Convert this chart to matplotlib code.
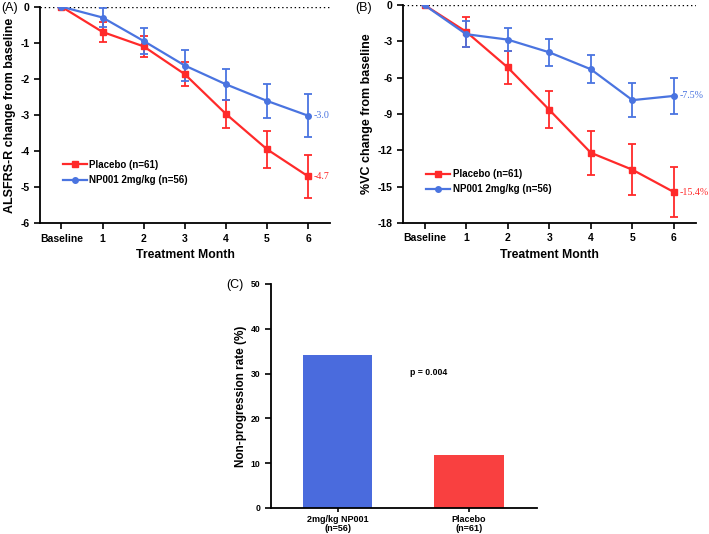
import numpy as np
import matplotlib
matplotlib.use("Agg")
import matplotlib.pyplot as plt

plt.rcParams['font.family'] = ['Liberation Sans', 'DejaVu Sans']
plt.rcParams['axes.unicode_minus'] = False

RED = '#ff2a2a'
BLUE = '#4a74e0'

months = [0, 1, 2, 3, 4, 5, 6]
month_labels = ['Baseline', '1', '2', '3', '4', '5', '6']

# panel A: ALSFRS-R change
alsfrs_placebo = [0, -0.70, -1.10, -1.87, -2.97, -3.95, -4.70]
alsfrs_placebo_err = [0, 0.28, 0.30, 0.33, 0.38, 0.51, 0.59]
alsfrs_np001 = [0, -0.30, -0.95, -1.63, -2.15, -2.61, -3.02]
alsfrs_np001_err = [0, 0.25, 0.36, 0.43, 0.43, 0.48, 0.60]

# panel B: %VC change
vc_placebo = [0, -2.2, -5.15, -8.65, -12.2, -13.6, -15.45]
vc_placebo_err = [0, 1.25, 1.33, 1.53, 1.83, 2.1, 2.05]
vc_np001 = [0, -2.4, -2.85, -3.9, -5.3, -7.85, -7.5]
vc_np001_err = [0, 1.05, 0.98, 1.1, 1.17, 1.38, 1.5]

# panel C: non-progression
groups = ['2mg/kg NP001\n(n=56)', 'Placebo\n(n=61)']
nonprog = [34.2, 11.8]

fig = plt.figure(figsize=(7.09, 5.34), dpi=100)
axA = fig.add_axes([0.0564, 0.5818, 0.409, 0.4057])
axB = fig.add_axes([0.5684, 0.5824, 0.4133, 0.408])
axC = fig.add_axes([0.3822, 0.0487, 0.3752, 0.4195])


def style(ax):
    for s in ['top', 'right']:
        ax.spines[s].set_visible(False)
    for s in ['left', 'bottom']:
        ax.spines[s].set_linewidth(1.3)
    ax.tick_params(width=1.2, length=4, labelsize=7.5)
    for lab in ax.get_xticklabels() + ax.get_yticklabels():
        lab.set_fontweight('bold')


def line_panel(ax, pl, pl_err, np_, np_err, ylim, yticks, ylabel, pl_txt, np_txt, leg_y):
    ax.axhline(0, color='black', ls=(0, (1, 2)), lw=1.0, zorder=1)
    ax.errorbar(months, pl, yerr=pl_err, color=RED, marker='s', ms=5, lw=1.6,
                capsize=3, elinewidth=1.3, capthick=1.3, zorder=3)
    ax.errorbar(months, np_, yerr=np_err, color=BLUE, marker='o', ms=4, lw=1.6,
                capsize=3, elinewidth=1.3, capthick=1.3, zorder=3)
    h1, = ax.plot([], [], color=RED, marker='s', ms=5, lw=1.6, label='Placebo (n=61)')
    h2, = ax.plot([], [], color=BLUE, marker='o', ms=4, lw=1.6, label='NP001 2mg/kg (n=56)')
    ax.set_xlim(-0.52, 6.53)
    ax.set_ylim(*ylim)
    ax.set_yticks(yticks)
    ax.set_xticks(months)
    ax.set_xticklabels(month_labels)
    ax.set_ylabel(ylabel, fontsize=9, fontweight='bold', labelpad=3)
    ax.set_xlabel('Treatment Month', fontsize=8.8, fontweight='bold', labelpad=4)
    style(ax)
    ax.text(6.14, np_[-1], np_txt, color=BLUE, fontsize=7.2, family='Liberation Serif', va='center')
    ax.text(6.14, pl[-1], pl_txt, color=RED, fontsize=7.2, family='Liberation Serif', va='center')
    ax.legend(handles=[h1, h2], loc='center left', bbox_to_anchor=(0.05, leg_y), frameon=False,
              prop={'size': 7, 'weight': 'bold'}, handlelength=2.4, handletextpad=0.3,
              labelspacing=0.55)


line_panel(axA, alsfrs_placebo, alsfrs_placebo_err, alsfrs_np001, alsfrs_np001_err,
           (-6, 0), range(-6, 1), 'ALSFRS-R change from baseline', '-4.7', '-3.0', 0.235)
line_panel(axB, vc_placebo, vc_placebo_err, vc_np001, vc_np001_err,
           (-18, 0), range(-18, 1, 3), '%VC change from baseline', '-15.4%', '-7.5%', 0.19)

fig.text(0.002, 1 - 8 / 534, '(A)', fontsize=9, va='center')
fig.text(355 / 709, 1 - 8 / 534, '(B)', fontsize=9, va='center')

axC.bar([0, 1], nonprog, width=0.525, color=['#4a6bdd', '#f94040'])
axC.set_xlim(-0.506, 1.517)
axC.set_ylim(0, 50)
axC.set_yticks(range(0, 51, 10))
axC.set_xticks([0, 1])
axC.set_xticklabels(groups, linespacing=0.95)
axC.set_ylabel('Non-progression rate (%)', fontsize=8.5, fontweight='bold', labelpad=3)
style(axC)
axC.tick_params(axis='y', labelsize=6.2)
axC.tick_params(axis='x', labelsize=6.5, length=3, pad=2)
axC.text(0.55, 30.3, 'p = 0.004', fontsize=6.3, fontweight='bold', va='center')
fig.text(226 / 709, 1 - 285 / 534, '(C)', fontsize=9, va='center')

fig.savefig('out.png', dpi=100)
